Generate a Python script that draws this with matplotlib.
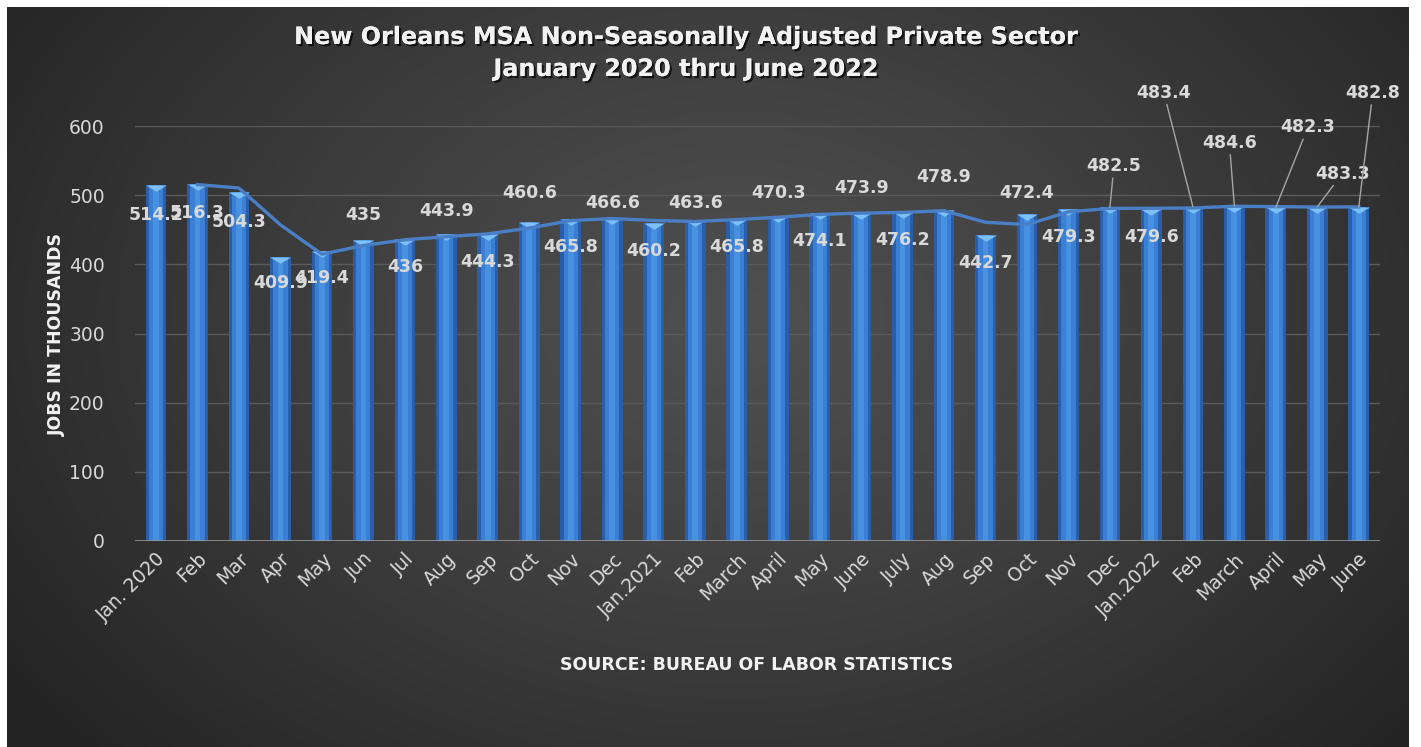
import numpy as np
import pandas as pd
import matplotlib
matplotlib.use("Agg")
import matplotlib.pyplot as plt
import matplotlib.patheffects as pe
from matplotlib.path import Path

# ---------------- data ----------------
months = ["Jan. 2020", "Feb", "Mar", "Apr", "May", "Jun", "Jul", "Aug", "Sep", "Oct",
          "Nov", "Dec", "Jan.2021", "Feb", "March", "April", "May", "June", "July", "Aug",
          "Sep", "Oct", "Nov", "Dec", "Jan.2022", "Feb", "March", "April", "May", "June"]
jobs = [514.2, 516.3, 504.3, 409.9, 419.4, 435, 436, 443.9, 444.3, 460.6,
        465.8, 466.6, 460.2, 463.6, 465.8, 470.3, 474.1, 473.9, 476.2, 478.9,
        442.7, 472.4, 479.3, 482.5, 479.6, 483.4, 484.6, 482.3, 483.3, 482.8]
y_ticks = [0, 100, 200, 300, 400, 500, 600]
title_lines = ["New Orleans MSA Non-Seasonally Adjusted Private Sector",
               "January 2020 thru June 2022"]
y_title = "JOBS IN THOUSANDS"
x_title = "SOURCE: BUREAU OF LABOR STATISTICS"

# label placement (pixels relative to bar top), style only
label_dy = [-30, -29, -30, -26, -27, 25, -28, 23, -28, 29, -28, 15, -28, 17, -28,
            23, -28, 25, -28, 33, -28, 21, -28, 41, -28, 114, 63, 80, 33, 114]
label_dx = [0] * 23 + [4, 0, -29, -5, 32, 25, 14]
leader = [False] * 23 + [True, False, True, True, True, True, True]

W, H = 1421, 747
fig = plt.figure(figsize=(W / 100, H / 100), dpi=100, facecolor="white")

# ---------------- background (radial gradient) ----------------
bx0, bx1, by0, by1 = 7, 1409, 7, 747
bg = fig.add_axes([bx0 / W, 0, (bx1 - bx0) / W, (by1 - by0) / H], zorder=-10)
gw, gh = bx1 - bx0, by1 - by0
yy, xx = np.mgrid[0:gh, 0:gw]
cx, cy = gw * 0.52, gh * 0.42
r = np.sqrt(((xx - cx) / (gw * 0.62)) ** 2 + ((yy - cy) / (gh * 0.85)) ** 2)
r = np.clip(r, 0, 1)
inner, outer = 0.31, 0.145
val = inner - (inner - outer) * r ** 1.2
img = np.dstack([val, val, val])
bg.imshow(img, aspect="auto", extent=[0, 1, 0, 1], interpolation="bilinear")
bg.set_axis_off()

# ---------------- main axes ----------------
left, right = 135.3, 1379.5
top, bottom = 126, 541
ax = fig.add_axes([left / W, (H - bottom) / H, (right - left) / W, (bottom - top) / H])
ax.set_facecolor("none")
x = np.arange(len(jobs))
ax.set_xlim(-0.5, len(jobs) - 0.5)
ax.set_ylim(0, 600)

for s in ax.spines.values():
    s.set_visible(False)
ax.set_yticks(y_ticks)
ax.yaxis.grid(True, color="#5a5a5a", lw=1.0)
ax.set_axisbelow(True)
ax.tick_params(axis="both", length=0, colors="#d9d9d9", labelsize=13.5)
ax.tick_params(axis="y", pad=22)
ax.set_xticks(x)
ax.set_xticklabels(months, rotation=45, ha="right", rotation_mode="anchor")
ax.tick_params(axis="x", pad=6)
for t in ax.get_yticklabels():
    t.set_color("#d9d9d9")

# bars with a simple 3D-ish shading
ax.bar(x, jobs, width=0.5, color="#2b5ea8", zorder=2)
ax.bar(x, jobs, width=0.34, color="#3a7fd4", zorder=2.1)
ax.bar(x, jobs, width=0.14, color="#4890e0", zorder=2.2)
cap = Path([(-1, 0), (1, 0), (0, -0.6), (-1, 0)],
           [Path.MOVETO, Path.LINETO, Path.LINETO, Path.CLOSEPOLY])
ax.plot(x, jobs, linestyle="none", marker=cap, markersize=15,
        color="#7cc0f7", markeredgewidth=0, zorder=2.3)

ax.axhline(0, color="#a0a0a0", lw=1.8, zorder=2.5)

# 2-period moving average trendline
ma = pd.Series(jobs).rolling(2).mean()
ax.plot(x[1:], ma.values[1:], color="#4a7fc6", lw=2.4, zorder=3,
        solid_joinstyle="round")

# data labels
for i, v in enumerate(jobs):
    txt = f"{v:g}"
    kw = dict(xy=(x[i], v), xytext=(label_dx[i], label_dy[i]),
              textcoords="offset pixels", ha="center", va="center",
              fontsize=12.5, fontweight="bold", color="#d9d9d9", zorder=5,
              annotation_clip=False)
    if leader[i]:
        kw["arrowprops"] = dict(arrowstyle="-", color="#a6a6a6", lw=1.0,
                                shrinkA=0, shrinkB=0)
    ax.annotate(txt, **kw)

# titles
shadow = [pe.withSimplePatchShadow(offset=(1.5, -1.5), shadow_rgbFace="black", alpha=0.7),
          pe.Normal()]
for k, line in enumerate(title_lines):
    fig.text(686 / W, 1 - (37 + 32 * k) / H, line, ha="center", va="center",
             fontsize=17.2, fontweight="bold", color="#f2f2f2", path_effects=shadow)

fig.text(57 / W, 1 - 335 / H, y_title, rotation=90, ha="center", va="center",
         fontsize=12.5, fontweight="bold", color="#f2f2f2")
fig.text(757 / W, 1 - 665 / H, x_title, ha="center", va="center",
         fontsize=12.5, fontweight="bold", color="#f2f2f2")

fig.savefig("out.png", dpi=100, facecolor="white")
